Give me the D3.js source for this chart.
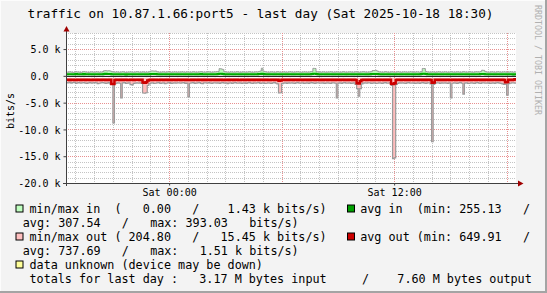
<!DOCTYPE html>
<html>
<head>
<meta charset="utf-8">
<script src="https://cdn.jsdelivr.net/npm/d3@7"></script>
<style>
  body { margin: 0; background: #f3f3f3; }
  text { font-family: "DejaVu Sans Mono", monospace; white-space: pre; }
</style>
</head>
<body>
<svg id="chart" width="547" height="293"></svg>
<script>
// 5 minute samples, Fri 18:30 -> Sat 18:30 (bits/s)
var maxIn = [
  720,680,750,700,640,690,760,720,700,650,710,780,730,690,660,720,740,700,680,760,720,690,710,740,
  950,980,920,960,900,760,720,690,740,700,680,720,760,700,650,690,720,740,700,680,710,760,720,690,
  700,740,680,720,690,760,900,920,880,910,760,700,680,720,740,690,700,760,720,680,700,740,710,690,
  720,700,760,690,680,740,720,700,690,750,720,680,700,740,780,720,690,700,730,760,700,680,720,740,
  760,820,1350,1300,1200,760,720,700,680,740,720,690,700,760,720,680,700,740,710,690,720,760,700,680,
  700,740,720,780,900,1430,880,760,720,690,700,740,720,680,700,760,720,690,710,740,700,680,720,760,
  720,690,700,740,760,720,680,700,740,720,690,700,760,820,1400,1380,780,720,700,690,740,720,680,700,
  720,760,700,680,710,740,720,690,700,760,720,680,700,740,720,690,700,750,720,680,700,740,760,720,
  690,700,740,780,1000,980,1020,880,740,720,690,700,760,720,680,700,740,720,690,700,760,720,680,710,
  740,720,690,700,760,720,680,700,740,720,690,780,1380,1360,820,720,700,690,740,720,680,700,760,720,
  690,700,740,720,680,710,760,720,690,700,740,720,680,700,760,720,690,710,740,720,680,700,760,740,
  720,800,1050,1020,780,720,690,700,740,720,680,700,760,720,690,710,740,720,680,700,760,720,690,740
];
var minIn = [
  120,80,140,100,60,90,150,110,70,130,90,60,100,140,80,120,90,70,110,150,100,60,120,90,
  160,180,140,170,130,80,60,50,90,70,40,80,110,70,30,60,90,100,70,50,80,120,90,60,
  70,100,50,80,60,110,150,160,130,140,100,70,50,80,100,60,70,120,90,50,70,100,80,60,
  80,70,120,60,50,100,80,70,60,110,80,50,70,100,130,80,60,70,90,120,70,50,80,100,
  120,140,200,190,170,110,80,70,50,100,80,60,70,120,80,50,70,100,80,60,80,120,70,50,
  70,100,80,130,150,190,140,110,80,60,70,100,80,50,70,120,80,60,80,100,70,50,80,120,
  80,60,70,100,110,80,50,70,100,80,60,70,120,140,180,170,120,80,70,60,100,80,50,70,
  80,120,70,50,80,100,80,60,70,120,80,0,70,100,80,60,70,110,80,50,70,100,120,80,
  60,70,100,130,160,150,170,140,100,80,60,70,120,80,50,70,100,80,60,70,120,80,50,80,
  100,80,60,70,120,80,50,70,100,80,60,130,180,170,130,80,70,60,100,80,50,70,120,80,
  60,70,100,80,50,80,120,80,60,70,100,80,50,70,120,80,60,80,100,80,50,70,120,100,
  80,130,160,150,120,80,60,70,100,80,50,70,120,80,60,80,100,80,50,70,120,80,40,100
];
var avgIn = [
  310,295,320,305,285,300,330,315,300,290,305,325,310,295,285,305,315,300,290,320,310,295,300,315,
  360,380,350,370,340,300,290,285,305,295,280,300,315,295,275,290,305,310,295,285,300,320,305,290,
  295,310,285,300,290,320,350,360,340,355,315,295,285,300,310,290,295,320,305,285,295,310,300,290,
  300,295,320,290,285,310,300,295,290,315,300,285,295,310,325,300,290,295,305,320,295,285,300,310,
  320,340,393,385,370,320,300,295,285,310,300,290,295,320,300,285,295,310,300,290,300,320,295,285,
  295,310,300,325,350,390,345,320,300,290,295,310,300,285,295,320,300,290,300,310,295,285,300,320,
  300,290,295,310,320,300,285,295,310,300,290,295,320,340,380,375,325,300,295,290,310,300,285,295,
  300,320,295,285,300,310,300,290,295,320,300,285,295,310,300,290,295,315,300,285,295,310,320,300,
  290,295,310,325,360,355,365,340,310,300,290,295,320,300,285,295,310,300,290,295,320,300,285,300,
  310,300,290,295,320,300,285,295,310,300,290,325,380,375,330,300,295,290,310,300,285,295,320,300,
  290,295,310,300,285,300,320,300,290,295,310,300,285,295,320,300,290,300,310,300,285,295,320,310,
  300,330,365,360,320,300,290,295,310,300,285,295,320,300,290,300,310,300,285,295,320,300,255,310
];
var minOut = [
  380,420,350,400,460,390,330,410,440,370,400,350,420,380,450,390,360,410,430,370,400,440,380,350,
  410,390,430,360,400,420,380,350,410,440,390,370,420,400,360,430,390,410,370,400,440,380,410,390,
  400,430,380,360,410,390,420,370,400,440,380,410,360,390,430,400,370,410,390,420,380,400,440,370,
  390,410,380,420,400,360,430,390,410,380,400,440,370,390,420,400,360,410,390,430,380,400,410,370,
  420,390,360,410,400,380,430,390,370,410,440,380,400,420,360,390,410,380,430,400,370,390,420,400,
  380,410,400,370,390,430,400,380,410,360,400,420,390,380,410,440,370,400,390,420,380,410,400,360,
  400,380,420,390,410,370,400,430,380,400,410,390,360,420,400,380,410,390,430,370,400,380,410,420,
  390,400,370,410,380,420,400,390,410,370,400,430,380,410,390,400,370,420,390,400,410,380,390,420,
  400,370,410,390,420,380,400,410,370,390,430,400,380,410,390,205,400,380,420,390,410,370,400,390,
  410,390,400,380,420,370,410,390,400,430,380,410,390,400,370,420,390,400,410,380,390,420,400,370,
  390,410,380,400,420,390,370,410,400,380,430,390,400,410,370,390,420,400,380,410,390,400,370,410,
  400,380,410,390,420,400,370,390,410,400,380,420,390,400,410,370,390,420,400,380,410,390,400,380
];
var avgOut = [
  740,720,760,730,710,750,770,740,720,760,730,710,750,740,720,760,780,740,720,750,730,710,760,740,
  730,750,720,760,740,1500,1510,760,740,720,750,730,760,740,720,750,770,730,740,760,720,740,730,750,
  740,1250,1300,1200,850,750,730,760,740,720,750,770,740,720,760,730,710,750,740,760,720,740,750,730,
  740,760,730,710,750,740,780,750,720,760,740,730,750,710,740,760,730,750,720,740,760,730,710,750,
  730,760,740,720,750,770,740,720,760,730,710,750,740,720,760,780,740,720,750,730,710,760,740,730,
  750,740,720,760,730,710,750,740,720,760,780,740,720,750,730,710,900,880,740,720,760,730,750,740,
  720,760,740,730,750,710,740,760,730,720,750,740,760,730,710,750,740,720,760,730,750,740,720,760,
  740,730,750,720,760,740,730,750,710,740,760,730,750,720,740,760,730,750,1400,1420,1000,760,740,730,
  750,740,720,760,730,750,740,720,760,730,710,750,740,760,730,720,1450,1510,1380,760,740,730,750,720,
  740,760,730,750,720,740,760,730,710,750,740,720,760,730,750,740,720,760,1300,1250,740,730,750,720,
  750,730,760,740,720,750,780,740,730,760,740,720,750,730,770,740,720,760,730,750,740,720,760,730,
  740,760,730,750,720,740,760,730,750,720,740,760,730,750,740,720,760,1200,1150,740,730,760,740,650
];
var maxOut = [
  1250,1300,1220,1350,1280,1200,1400,1320,1260,1380,1300,1240,1350,1420,1300,1260,1380,1320,1250,1300,1450,1380,1300,1260,
  1320,1400,1350,1280,1500,1600,8800,1450,1350,1300,1380,4130,1320,1260,1400,1350,1300,1650,1700,1420,1350,1300,1380,1320,
  1400,3200,3250,3150,1800,1500,1350,1300,1420,1380,1300,1260,1400,1350,1300,1450,1380,1320,1260,1400,1350,1300,1380,1320,
  1300,1380,1320,1260,1400,1350,3940,1380,1300,1250,1400,1350,1320,1280,1400,1450,1320,1300,1380,1260,1350,1400,1320,1300,
  1350,1300,1400,1320,1260,1380,1300,1450,1350,1300,1400,1320,1280,1380,1350,1300,1420,1360,1300,1400,1320,1280,1350,1400,
  1320,1380,1300,1260,1400,1350,1300,1420,1380,1300,1350,1400,1320,1280,1380,1500,3200,3150,1450,1350,1300,1400,1320,1380,
  1300,1350,1400,1320,1280,1380,1350,1300,1420,1360,1300,1400,1320,1280,1350,1400,1320,1300,1380,1350,1300,1420,1360,1300,
  1350,1400,1320,1300,1380,4130,1350,1300,1400,1320,1280,1380,1350,1300,1420,1360,1300,1600,2400,3800,2400,1500,1350,1300,
  1380,1320,1300,1400,1350,1300,1420,1380,1300,1350,1400,1320,1280,1380,1350,1300,1800,15450,15300,1600,1400,1320,1350,1300,
  1350,1400,1320,1280,1380,1350,1300,1420,1360,1300,1400,1320,1280,1350,1400,1320,1300,1500,12300,1600,1380,1320,1300,1400,
  1320,1380,1300,1350,1400,1320,4130,1380,1300,1350,1400,1320,1280,1380,3400,1350,1300,1420,1380,1300,1350,1400,1320,1280,
  1350,1400,1320,1300,1380,1350,1300,1420,1360,1300,1400,1320,1280,1350,1400,1500,1600,1550,3600,1450,1380,1320,1300,1350
];

var yTicks = [-20000, -15000, -10000, -5000, 0, 5000];
var yTickLabels = ["-20.0 k", "-15.0 k", "-10.0 k", "-5.0 k", "0.0  ", "5.0 k"];

var title = "traffic on 10.87.1.66:port5 - last day (Sat 2025-10-18 18:30)";
var legendLeft = [
  "min/max in  (   0.00   /    1.43 k bits/s)",
  "avg: 307.54   /   max: 393.03   bits/s)",
  "min/max out ( 204.80   /   15.45 k bits/s)",
  "avg: 737.69   /   max:   1.51 k bits/s)",
  "data unknown (device may be down)",
  "totals for last day :   3.17 M bytes input     /    7.60 M bytes output"
];
var legendLeftBox = ["#c0ffc0", null, "#ffc0c0", null, "#ffff99", null];
var legendRight = ["avg in  (min: 255.13   /", null, "avg out (min: 649.91   /", null, null, null];
var legendRightBox = ["#00a000", null, "#cc0000", null, null, null];

var svg = d3.select("#chart"),
  width = +svg.attr("width"),
  height = +svg.attr("height");

// canvas + 3d frame
svg.append("rect").attr("width", width).attr("height", height).attr("fill", "#f3f3f3");
svg.append("path").attr("d", "M0,293V0H547").attr("fill", "none").attr("stroke", "#fcfcfc").attr("stroke-width", 2);
svg.append("path").attr("d", "M0,292H546V0").attr("fill", "none").attr("stroke", "#a4a4a4").attr("stroke-width", 2);

var t0 = new Date(2025, 9, 17, 18, 30),
  t1 = new Date(2025, 9, 18, 18, 30);

var x = d3.scaleTime().domain([t0, t1]).range([66, 516]);
var y = d3.scaleLinear().domain([-20000, 8000]).range([183, 33]);

svg.append("rect").attr("x", 66).attr("y", 33).attr("width", 450).attr("height", 150).attr("fill", "#ffffff");

// grid
var grid = svg.append("g").attr("shape-rendering", "crispEdges");
grid.selectAll(".hmin").data(d3.range(-19000, 8001, 1000).filter(function(v){ return v % 5000 != 0; }))
  .enter().append("line")
  .attr("x1", 66).attr("x2", 516)
  .attr("y1", function(d){ return Math.round(y(d)) + 0.5; }).attr("y2", function(d){ return Math.round(y(d)) + 0.5; })
  .attr("stroke", "#c4c4c4").attr("stroke-dasharray", "1,1");
grid.selectAll(".vmin").data(x.ticks(d3.timeHour.every(1)).filter(function(d){ return d.getHours() % 6 != 0; }))
  .enter().append("line")
  .attr("y1", 33).attr("y2", 183)
  .attr("x1", function(d){ return Math.round(x(d)) + 0.5; }).attr("x2", function(d){ return Math.round(x(d)) + 0.5; })
  .attr("stroke", "#c4c4c4").attr("stroke-dasharray", "1,1");
grid.selectAll(".hmaj").data([-15000, -10000, -5000, 5000])
  .enter().append("line")
  .attr("x1", 66).attr("x2", 516)
  .attr("y1", function(d){ return Math.round(y(d)) + 0.5; }).attr("y2", function(d){ return Math.round(y(d)) + 0.5; })
  .attr("stroke", "#e89090").attr("stroke-dasharray", "1,1");
grid.selectAll(".vmaj").data(x.ticks(d3.timeHour.every(6)))
  .enter().append("line")
  .attr("y1", 33).attr("y2", 183)
  .attr("x1", function(d){ return Math.round(x(d)) + 0.5; }).attr("x2", function(d){ return Math.round(x(d)) + 0.5; })
  .attr("stroke", "#e89090").attr("stroke-dasharray", "1,1");

// build samples, step data
function series(lo, hi) {
  var pts = lo.map(function(v, i) {
    return { t: d3.timeMinute.offset(t0, 5 * i), lo: v, hi: hi ? hi[i] : v };
  });
  var last = pts[pts.length - 1];
  pts.push({ t: t1, lo: last.lo, hi: last.hi });
  return pts;
}
var inBand = series(minIn, maxIn);
var outBand = series(minOut.map(function(v){ return -v; }), maxOut.map(function(v){ return -v; }));
var avgInPts = series(avgIn);
var avgOutPts = series(avgOut.map(function(v){ return -v; }));

var area = d3.area().curve(d3.curveStepAfter)
  .x(function(d){ return x(d.t); })
  .y0(function(d){ return y(d.lo); })
  .y1(function(d){ return y(d.hi); });
var lineHi = d3.line().curve(d3.curveStepAfter).x(function(d){ return x(d.t); }).y(function(d){ return y(d.hi); });
var lineLo = d3.line().curve(d3.curveStepAfter).x(function(d){ return x(d.t); }).y(function(d){ return y(d.lo); });

var plot = svg.append("g");
plot.append("path").attr("d", area(inBand)).attr("fill", "#b8f8b8");
plot.append("path").attr("d", area(outBand)).attr("fill", "#ffbcbc");
plot.append("path").attr("d", lineHi(inBand)).attr("fill", "none").attr("stroke", "#9a9a9a").attr("stroke-width", 1);
plot.append("path").attr("d", lineHi(outBand)).attr("fill", "none").attr("stroke", "#9a9a9a").attr("stroke-width", 1.2);
plot.append("line").attr("x1", 66).attr("x2", 516).attr("y1", y(0) + 0.5).attr("y2", y(0) + 0.5)
  .attr("stroke", "#000").attr("stroke-width", 1);
plot.append("path").attr("d", lineLo(avgInPts)).attr("fill", "none").attr("stroke", "#00aa00").attr("stroke-width", 2);
plot.append("path").attr("d", lineLo(avgOutPts)).attr("fill", "none").attr("stroke", "#cc0000").attr("stroke-width", 2.5);

// axes
var yAxis = svg.append("g").attr("transform", "translate(66.5,0)")
  .call(d3.axisLeft(y).tickValues(yTicks).tickSize(3).tickSizeOuter(0).tickPadding(3)
    .tickFormat(function(d, i){ return yTickLabels[i]; }));
yAxis.select(".domain").remove();
yAxis.selectAll("line").attr("stroke", "#404040");
yAxis.selectAll("text").attr("font-family", "DejaVu Sans Mono").attr("font-size", 10).attr("fill", "#000").attr("dy", "0.36em");

var xAxis = svg.append("g").attr("transform", "translate(0,183.5)")
  .call(d3.axisBottom(x).ticks(d3.timeHour.every(12)).tickSize(2).tickSizeOuter(0)
    .tickFormat(d3.timeFormat("%a %H:%M")));
xAxis.select(".domain").remove();
xAxis.selectAll("line").attr("stroke", "#404040");
xAxis.selectAll("text").attr("font-family", "DejaVu Sans Mono").attr("font-size", 10).attr("fill", "#000")
  .attr("y", 12.5).attr("dy", null);

svg.append("line").attr("x1", 66.5).attr("x2", 66.5).attr("y1", 186).attr("y2", 29).attr("stroke", "#404040");
svg.append("line").attr("x1", 63).attr("x2", 519).attr("y1", 183.5).attr("y2", 183.5).attr("stroke", "#404040");
svg.append("path").attr("d", "M63.5,31.5L66.5,26L69.5,31.5Z").attr("fill", "#a00000");
svg.append("path").attr("d", "M518,180.5L523.5,183.5L518,186.5Z").attr("fill", "#a00000");

// labels
svg.append("text").attr("x", 260.5).attr("y", 17.5).attr("text-anchor", "middle")
  .attr("font-size", 12.7).attr("fill", "#000").text(title);
svg.append("text").attr("transform", "translate(13.5,111) rotate(-90)").attr("text-anchor", "middle")
  .attr("font-size", 10).attr("fill", "#000").text("bits/s");
svg.append("text").attr("transform", "translate(535,5) rotate(90)")
  .attr("font-size", 8.3).attr("fill", "#b0b0b0").text("RRDTOOL / TOBI OETIKER");

// legend
var legend = svg.append("g").attr("font-size", 11.75).attr("fill", "#000");
legendLeft.forEach(function(s, i) {
  var base = 213 + i * 14;
  if (legendLeftBox[i]) {
    legend.append("rect").attr("x", 16).attr("y", base - 8).attr("width", 7).attr("height", 7)
      .attr("fill", legendLeftBox[i]).attr("stroke", "#000").attr("stroke-width", 1);
  }
  legend.append("text").attr("x", legendLeftBox[i] || i == 5 ? 29.5 : 22.8).attr("y", base).text(s);
  if (legendRight[i]) {
    legend.append("rect").attr("x", 347.5).attr("y", base - 8).attr("width", 7).attr("height", 7)
      .attr("fill", legendRightBox[i]).attr("stroke", "#000").attr("stroke-width", 1);
    legend.append("text").attr("x", 360.2).attr("y", base).text(legendRight[i]);
  }
});
</script>
</body>
</html>
